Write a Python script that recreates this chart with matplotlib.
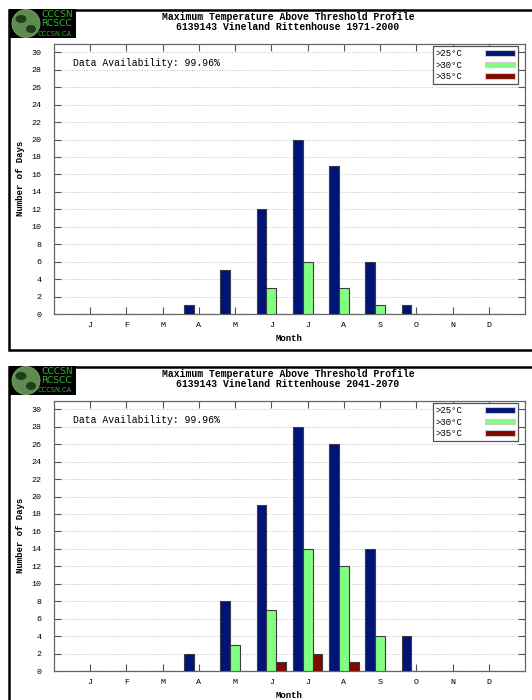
import matplotlib
matplotlib.use("Agg")
import matplotlib.pyplot as plt
from matplotlib.patches import Rectangle, Ellipse
import numpy as np

# month data
months = ["J", "F", "M", "A", "M", "J", "J", "A", "S", "O", "N", "D"]
series_labels = [">25\u00b0C", ">30\u00b0C", ">35\u00b0C"]
colors = ["#001478", "#80ff80", "#800a00"]

titles = ["6139143 Vineland Rittenhouse 1971-2000",
          "6139143 Vineland Rittenhouse 2041-2070"]
availability = ["99.96%", "99.96%"]

# days above threshold, 1971-2000
p1_over25 = [0, 0, 0, 1, 5, 12, 20, 17, 6, 1, 0, 0]
p1_over30 = [0, 0, 0, 0, 0, 3, 6, 3, 1, 0, 0, 0]
p1_over35 = [0, 0, 0, 0, 0, 0, 0, 0, 0, 0, 0, 0]

# days above threshold, 2041-2070
p2_over25 = [0, 0, 0, 2, 8, 19, 28, 26, 14, 4, 0, 0]
p2_over30 = [0, 0, 0, 0, 3, 7, 14, 12, 4, 0, 0, 0]
p2_over35 = [0, 0, 0, 0, 0, 1, 2, 1, 0, 0, 0, 0]

panels = [(p1_over25, p1_over30, p1_over35), (p2_over25, p2_over30, p2_over35)]

W, H = 532, 700
plt.rcParams['font.family'] = ['Liberation Mono', 'DejaVu Sans Mono']

fig = plt.figure(figsize=(W / 100, H / 100), dpi=100)


def fx(x):
    return x / W


def fy(y):
    return 1 - y / H


def add_patch(p):
    p.set_transform(fig.transFigure)
    fig.patches.append(p)


def draw_logo(x0, y0):
    add_patch(Rectangle((fx(x0), fy(y0 + 29)), 67 / W, 29 / H,
                        facecolor="black", edgecolor="none", zorder=5))
    add_patch(Ellipse((fx(x0 + 17), fy(y0 + 14.5)), 28 / W, 28 / H,
                      facecolor="#5e8c50", edgecolor="#79a66b", lw=0.6, zorder=6))
    add_patch(Ellipse((fx(x0 + 12), fy(y0 + 10)), 11 / W, 8 / H,
                      facecolor="#1f3d1a", edgecolor="none", zorder=7))
    add_patch(Ellipse((fx(x0 + 22), fy(y0 + 20)), 10 / W, 8 / H,
                      facecolor="#1f3d1a", edgecolor="none", zorder=7))
    fig.text(fx(x0 + 32), fy(y0 + 5.5), "CCCSN", color="#2fb52f", fontsize=6.6,
             family="DejaVu Sans", ha="left", va="center", zorder=8)
    fig.text(fx(x0 + 32), fy(y0 + 14.5), "RCSCC", color="#2fb52f", fontsize=6.6,
             family="DejaVu Sans", ha="left", va="center", zorder=8)
    fig.text(fx(x0 + 29), fy(y0 + 24.5), "CCCSN.CA", color="#2fb52f", fontsize=4.8,
             family="DejaVu Sans", ha="left", va="center", zorder=8)


x = np.arange(1, 13)
bw = 0.27
offsets = [-0.27, 0.0, 0.27]

for i, data in enumerate(panels):
    dy = i * 357
    # panel border
    add_patch(Rectangle((fx(8.5), fy(350.5 + dy)), (W + 10) / W, 341 / H,
                        facecolor="white", edgecolor="black", lw=1.8, zorder=-5))
    draw_logo(9, 9 + dy)
    fig.text(fx(288), fy(17 + dy), "Maximum Temperature Above Threshold Profile",
             ha="center", va="center", fontsize=7, fontweight="bold")
    fig.text(fx(288), fy(27 + dy), titles[i],
             ha="center", va="center", fontsize=7, fontweight="bold")

    top = 43.6 + dy
    bot = 314 + dy
    ax = fig.add_axes([fx(54), fy(bot), (525 - 54) / W, (bot - top) / H], zorder=2)
    ax.patch.set_alpha(0)
    for k, vals in enumerate(data):
        ax.bar(x + offsets[k], vals, width=bw, color=colors[k],
               edgecolor="#3c3c3c", linewidth=0.8, label=series_labels[k], zorder=3)
    ax.set_xlim(0, 13)
    ax.set_ylim(0, 31)
    ax.set_yticks(range(0, 31, 2))
    ax.set_xticks(x)
    ax.set_xticklabels(months)
    ax.tick_params(axis="both", direction="in", length=5, width=0.8,
                   labelsize=6, color="#555555", top=True, right=True, pad=6)
    ax.tick_params(axis="y", pad=9)
    ax.yaxis.grid(True, linestyle=(0, (1, 2)), color="#aaaaaa", linewidth=0.6)
    ax.set_axisbelow(True)
    for s in ax.spines.values():
        s.set_color("#666666")
        s.set_linewidth(0.9)
    ax.set_xlabel("Month", fontsize=6.5, fontweight="bold")
    ax.xaxis.set_label_coords(0.5, -(334 - 314) / (bot - top))
    ax.set_ylabel("Number of Days", fontsize=6.5, fontweight="bold")
    ax.yaxis.set_label_coords(-(54 - 25) / (525 - 54), 0.5)
    ax.text(0.04, 0.93, "Data Availability: " + availability[i],
            transform=ax.transAxes, fontsize=7, va="center", ha="left")
    leg = ax.legend(loc="upper right", bbox_to_anchor=(0.985, 0.99),
                    markerfirst=False, fancybox=False, fontsize=6.5,
                    handlelength=3.4, handleheight=0.6, borderpad=0.3,
                    labelspacing=0.3, handletextpad=2.4, borderaxespad=0)
    leg.get_frame().set_edgecolor("#555555")
    leg.get_frame().set_linewidth(0.9)
    leg.get_frame().set_alpha(1)
    for patch in leg.get_patches():
        patch.set_edgecolor("#cccccc")

fig.savefig("out.png", dpi=100)
